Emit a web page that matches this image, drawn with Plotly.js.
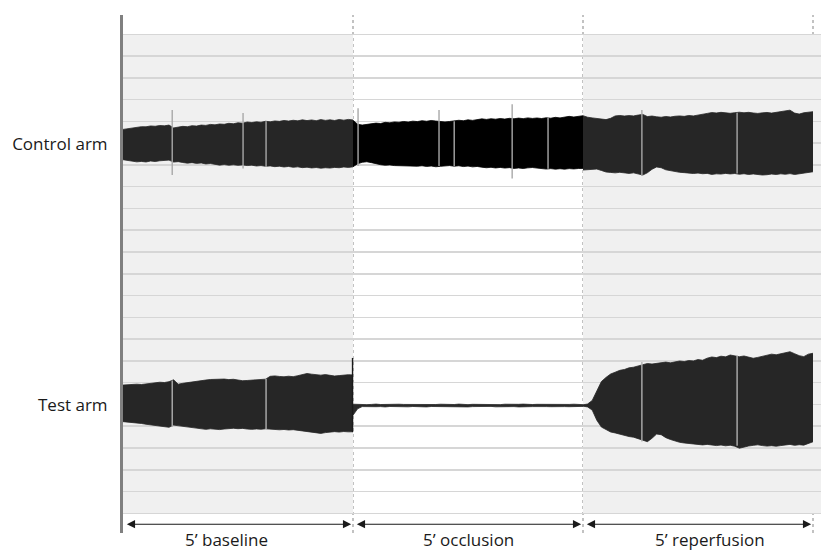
<!DOCTYPE html>
<html><head><meta charset="utf-8">
<script src="https://cdn.plot.ly/plotly-3.0.1.min.js"></script>
<style>html,body{margin:0;padding:0;background:#fff}#chart{width:821px;height:552px}</style>
</head><body><div id="chart"></div>
<script>
// ---- data (signal envelope amplitudes, arbitrary units, relative to each arm's trace centre) ----
const phases = ['5\u2019 baseline', '5\u2019 occlusion', '5\u2019 reperfusion'];
const phaseStart = [0, 5, 10];           // minutes
const armNames = ['Control arm', 'Test arm'];
const armCentres = [339, 99];            // signal units

const phaseMinutes = [0,0.1,0.2,0.3,0.4,0.5,0.6,0.7,0.8,0.9,
  1.0,1.1,1.2,1.3,1.4,1.5,1.6,1.7,1.8,1.9,
  2.0,2.1,2.2,2.3,2.4,2.5,2.6,2.7,2.8,2.9,
  3.0,3.1,3.2,3.3,3.4,3.5,3.6,3.7,3.8,3.9,
  4.0,4.1,4.2,4.3,4.4,4.5,4.6,4.7,4.8,4.9,
  5.0];

const controlBaselineUpper = [13.6,14.2,15.0,15.6,16.1,16.0,16.8,16.5,17.2,16.9,
  17.6,15.0,15.6,16.4,16.1,17.0,16.7,17.6,17.3,18.2,
  17.8,18.6,18.3,19.2,18.8,19.7,19.3,20.4,19.9,20.6,
  20.2,21.1,20.6,21.4,21.0,21.8,21.3,22.0,21.5,22.4,
  21.7,22.3,21.6,22.6,21.9,22.4,21.8,22.7,22.1,22.8,
  22.3];
const controlBaselineLower = [14.2,15.0,15.6,16.2,15.8,16.3,15.4,15.9,15.2,15.0,
  14.6,16.4,16.0,16.8,17.4,16.9,17.6,17.2,18.1,17.7,
  18.6,19.2,18.7,19.3,18.9,19.4,19.0,19.6,19.2,20.0,
  19.6,20.3,19.9,20.6,20.2,20.9,20.4,21.2,20.8,21.5,
  21.1,21.8,21.4,22.0,21.6,21.9,21.3,21.6,20.9,21.3,
  20.8];
const controlOcclusionUpper = [22.0,18.4,17.6,18.2,18.9,19.4,19.0,20.1,19.7,20.5,
  20.2,20.9,20.4,21.2,20.8,21.6,21.1,21.8,21.3,21.0,
  20.5,20.9,21.4,22.0,21.6,22.4,21.9,22.7,23.3,22.8,
  23.4,23.0,23.6,23.1,23.8,23.4,24.0,23.5,24.2,23.7,
  24.1,23.6,24.3,23.9,24.7,24.2,25.1,25.6,25.0,25.8,
  26.2];
const controlOcclusionLower = [20.7,18.0,16.6,16.1,16.9,18.2,18.8,19.3,19.0,19.6,
  19.8,19.4,20.1,19.7,20.2,19.8,20.4,20.0,20.7,20.3,
  19.9,19.6,20.2,19.8,20.5,20.1,20.8,20.4,21.1,21.6,
  21.2,21.8,21.3,21.9,21.5,22.2,21.8,22.3,21.7,21.4,
  21.9,22.3,22.8,22.4,22.9,22.5,22.9,22.4,22.7,22.3,
  22.2];
const controlReperfusionUpper = [26.2,24.8,24.2,23.9,23.4,22.6,23.8,26.0,26.4,25.9,
  26.3,26.0,26.8,27.4,25.4,25.9,25.2,24.8,25.5,25.0,
  25.7,26.0,25.6,26.4,26.0,27.0,27.6,28.3,29.1,28.7,
  29.3,28.8,28.4,29.0,29.4,28.9,29.3,28.7,28.3,28.8,
  29.2,28.6,29.3,29.6,30.4,31.3,28.6,27.7,28.9,29.4,
  29.9];
const controlReperfusionLower = [23.7,23.3,22.9,22.8,24.1,25.5,25.9,26.3,25.8,26.4,
  26.8,26.3,27.2,28.3,26.2,23.0,20.9,21.6,23.5,24.4,
  25.0,25.8,26.1,26.5,26.9,26.5,27.1,26.8,27.7,27.2,
  27.4,26.8,27.3,26.9,27.6,27.1,27.8,27.3,27.9,28.3,
  28.0,27.4,27.8,27.2,27.6,27.0,27.8,27.2,26.6,26.0,
  25.3];

const testBaselineUpper = [18.8,19.2,19.0,19.6,19.3,20.0,20.6,21.0,21.4,21.1,
  21.9,23.6,19.6,20.4,21.1,21.9,22.3,22.8,23.4,23.9,
  24.2,24.0,24.3,23.8,24.1,23.4,22.8,23.0,23.3,23.7,
  23.4,24.2,26.8,27.2,26.7,26.4,26.9,26.5,27.4,28.6,
  29.4,28.8,28.3,27.9,28.4,27.6,27.1,27.5,28.0,28.3,
  28.1];
const testBaselineLower = [14.8,15.1,15.6,15.9,16.5,17.2,17.8,18.3,18.8,19.5,
  20.0,18.0,18.6,19.4,20.0,20.5,21.0,21.6,21.9,21.4,
  21.8,22.1,21.6,21.2,20.9,21.3,21.0,21.6,21.9,21.5,
  21.8,21.4,21.9,22.1,22.3,22.0,22.5,22.2,22.8,23.2,
  23.6,24.3,25.1,25.6,24.9,24.3,24.0,24.4,23.9,24.2,
  24.1];
const testOcclusionUpper = [1.2,0.9,1.1,0.8,1.0,1.3,0.9,1.1,1.0,0.8,
  1.2,1.0,0.9,1.1,1.3,1.0,0.8,1.1,0.9,1.2,
  1.0,1.1,0.9,1.3,1.0,0.8,1.1,1.0,1.2,0.9,
  1.1,1.0,0.8,1.2,1.0,0.9,1.1,1.3,1.0,0.9,
  1.1,1.0,1.2,0.9,1.0,1.1,0.8,1.0,1.2,1.0,
  0.8];
const testOcclusionLower = [9.0,3.0,1.0,1.2,0.9,1.1,1.0,1.3,0.9,1.1,
  0.8,1.0,1.2,0.9,1.1,1.0,1.3,0.9,1.0,1.1,
  0.8,1.2,1.0,0.9,1.1,1.3,1.0,0.9,1.1,1.0,
  0.8,1.2,1.0,1.1,0.9,1.0,1.3,0.9,1.1,1.0,
  1.2,0.8,1.0,1.1,0.9,1.2,1.0,1.1,0.9,1.0,
  0.8];
const testReperfusionUpper = [0.6,1.4,4.6,13.8,22.0,25.8,28.9,30.6,32.3,33.1,
  34.6,35.2,36.4,37.0,38.6,38.1,38.9,39.4,39.9,39.2,
  40.3,40.9,40.4,41.3,41.0,42.2,41.6,43.5,44.6,44.0,
  45.3,44.7,46.4,45.8,44.8,45.5,44.6,43.4,44.2,45.0,
  46.5,47.2,46.6,47.5,48.3,49.4,47.6,45.8,44.9,47.2,
  48.0];
const testReperfusionLower = [0.6,1.3,4.2,13.5,19.8,22.4,24.3,25.2,26.4,27.2,
  28.5,29.1,30.3,31.4,33.2,30.1,26.2,26.8,29.5,31.2,
  32.6,33.8,34.4,35.0,35.4,35.8,36.2,35.7,36.4,36.8,
  36.3,37.0,36.5,37.4,39.2,38.0,37.2,36.6,36.1,36.8,
  37.3,36.9,37.4,36.8,36.2,35.7,36.6,36.0,36.4,35.2,
  33.3];

// artefacts (movement spikes / gaps) : minute, extent above and below centre
const controlArtefactMinutes = [1.07, 2.61, 3.11, 5.11, 6.87, 7.20, 8.46, 9.24, 11.28, 13.35];
const controlArtefactUpper   = [31.4, 28.7, 21.0, 33.0, 31.4, 21.0, 36.7, 24.0, 31.4, 29.0];
const controlArtefactLower   = [28.3, 22.2, 21.0, 20.0, 20.0, 20.3, 31.4, 22.5, 29.2, 27.0];
const testArtefactMinutes = [1.07, 3.11, 11.28, 13.35];
const testArtefactUpper   = [23.0, 24.5, 40.0, 46.0];
const testArtefactLower   = [19.5, 21.5, 33.0, 37.0];
const testClampMinute = [4.99];
const testClampUpper  = [43.7];
const testClampLower  = [24.4];

// ---- build ----
const X_MAX = 15.174;
const SIGNAL = '#262626', OCCLUDED = '#000000';
const armData = [
  [[controlBaselineUpper, controlBaselineLower], [controlOcclusionUpper, controlOcclusionLower], [controlReperfusionUpper, controlReperfusionLower]],
  [[testBaselineUpper, testBaselineLower], [testOcclusionUpper, testOcclusionLower], [testReperfusionUpper, testReperfusionLower]]
];
const traces = [];
armData.forEach((arm, a) => {
  const c = armCentres[a];
  arm.forEach((pair, p) => {
    const color = (a === 0 && p === 1) ? OCCLUDED : (a === 1 && p === 1 ? '#2a2a2a' : SIGNAL);
    const x = phaseMinutes.map(m => phaseStart[p] + m);
    traces.push({x, y: pair[1].map(v => c - v), mode: 'lines', line: {width: 0.8, color}, hoverinfo: 'skip', showlegend: false});
    traces.push({x, y: pair[0].map(v => c + v), mode: 'lines', line: {width: 0.8, color}, fill: 'tonexty', fillcolor: color, hoverinfo: 'skip', showlegend: false});
  });
});
function artefacts(mins, up, lo, c, color, w) {
  const x = [], y = [];
  mins.forEach((m, i) => { x.push(m, m, null); y.push(c + up[i], c - lo[i], null); });
  return {x, y, mode: 'lines', line: {width: w, color}, hoverinfo: 'skip', showlegend: false, connectgaps: false};
}
traces.push(artefacts(controlArtefactMinutes, controlArtefactUpper, controlArtefactLower, armCentres[0], '#a8a8a8', 1.4));
traces.push(artefacts(testArtefactMinutes, testArtefactUpper, testArtefactLower, armCentres[1], '#b0b0b0', 1.4));
traces.push(artefacts(testClampMinute, testClampUpper, testClampLower, armCentres[1], '#1a1a1a', 1.4));

const shapes = [];
[0, 2].forEach(p => shapes.push({type: 'rect', xref: 'x', yref: 'y', x0: phaseStart[p], x1: p === 2 ? X_MAX : phaseStart[p] + 5,
  y0: 0, y1: 440, fillcolor: '#f0f0f0', line: {width: 0}, layer: 'below'}));
[5, 10, 15].forEach(t => shapes.push({type: 'line', xref: 'x', yref: 'paper', x0: t, x1: t, y0: 0, y1: 1,
  line: {color: '#9a9a9a', width: 1.2, dash: 'dot'}, layer: 'below'}));

const annotations = [];
const labelX = [2.25, 7.52, 12.76];
phases.forEach((name, p) => {
  annotations.push({x: phaseStart[p] + 4.96, y: -10, ax: phaseStart[p] + 0.05, ay: -10, axref: 'x', ayref: 'y',
    xref: 'x', yref: 'y', text: '', showarrow: true, arrowhead: 2, startarrowhead: 2, arrowside: 'end+start',
    arrowwidth: 1.1, arrowsize: 1.5, startarrowsize: 1.5, arrowcolor: '#1a1a1a', standoff: 0, startstandoff: 0});
  annotations.push({x: labelX[p], y: -0.013, xref: 'x', yref: 'paper', text: name, showarrow: false,
    xanchor: 'center', yanchor: 'middle', font: {family: 'Open Sans', size: 17, color: '#1a1a1a'}});
});

const layout = {
  width: 821, height: 552,
  margin: {l: 123, r: 0, t: 15, b: 19},
  paper_bgcolor: '#ffffff', plot_bgcolor: '#ffffff',
  showlegend: false, hovermode: false,
  xaxis: {range: [0, X_MAX], visible: false, fixedrange: true},
  yaxis: {range: [-18.1, 457.7], showgrid: false, zeroline: false, showline: true, linecolor: '#808080', linewidth: 3,
    tickmode: 'array', tickvals: armCentres, ticktext: armNames, ticks: '', ticklabelstandoff: 9,
    tickfont: {family: 'Open Sans', size: 17, color: '#1a1a1a'},
    minor: {dtick: 20, tick0: 0, showgrid: true, gridcolor: '#d6d6d6', gridwidth: 1.5, ticks: ''}, fixedrange: true},
  shapes, annotations,
  font: {family: 'Open Sans'}
};
Plotly.newPlot('chart', traces, layout, {staticPlot: true, displayModeBar: false});
</script></body></html>
